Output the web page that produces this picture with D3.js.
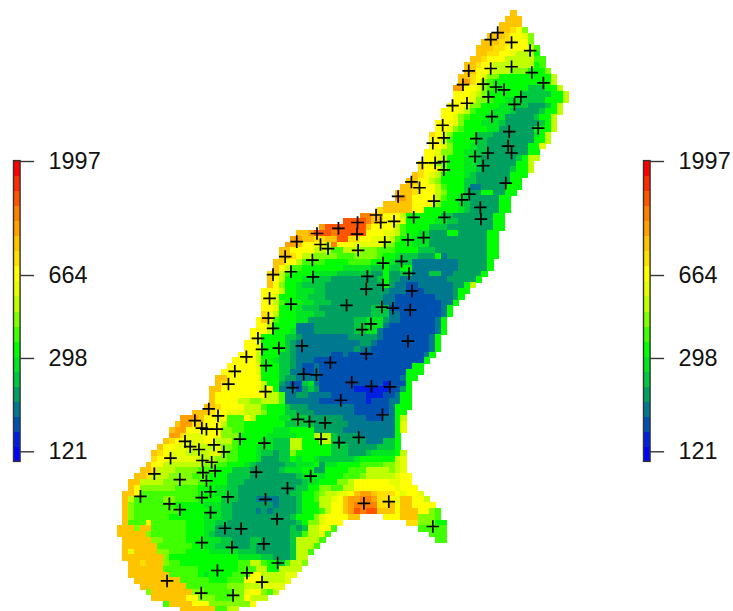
<!DOCTYPE html>
<meta charset="utf-8">
<html>
<head>
  <script src="https://d3js.org/d3.v7.min.js"></script>
  <style>
    html, body { margin: 0; background: #fff; }
    svg { display: block; }
    .legend text { font-family: "Liberation Sans", Arial, sans-serif; font-size: 23.4px; fill: #111; }
    .legend line { stroke: #333; stroke-width: 1.4; }
  </style>
</head>
<body>
  <svg width="733" height="611"></svg>

  <script>
    // colour classes, low to high, one letter each in the raster rows below
    const levels = "abcdefghijklmnopqrst".split("");
    const palette = ["#0000ff", "#0020e0", "#0050b0", "#007890", "#00a060", "#00c840", "#00e620", "#00ff00", "#40ff00", "#80ff00",
                     "#bfff00", "#e6ff00", "#ffff00", "#ffdf00", "#ffc400", "#ffa000", "#ff8000", "#ff5500", "#ff2a00", "#ff0000"];

    const tickValues = [121, 298, 664, 1997];

    // raster, read row by row from the top: first column of each row, then class+run length ("." = no data)
    const rowStart = [68,67,66,66,64,63,62,62,61,60,60,59,59,58,58,58,57,56,56,55,55,54,54,54,53,53,52,52,51,50,49,48,48,46,45,
      42,39,35,31,30,29,28,28,27,27,26,26,26,25,25,25,25,25,24,24,23,23,22,22,21,20,19,18,17,17,16,16,16,15,13,11,10,9,9,8,7,6,6,5,4,3,2,2,1,1,1,1,1,1,0,0,1,1,1,1,2,2,2,3,4,5,6,8,11];
    const rowRuns = [
      "o1","o3","o4","o2n1m1j1","o3n1m2l1j1","o3n2m3j1","o3n2m4k1i1","o2n2m2l1k3h1","o2n1m3k5i2","o2n1m2k7h1i1",
      "o2m2l1k3j3h3j1","o2n1m1l1j2h9k1","o1p1n1m1j1i1h10k1","p2m2l1j1i1h6f3h2k1","m3l1k1j1h6f5h2k1","m3l1j2i1h2g3f4h3k1",
      "m3l1j2h3g3f2e3f1h1k1","m3l1k1i1h3g3f1e4f1h2k1","m2l1j1i1h3g3e5f1h2k1","m3l1j1h3g3f1e6f1h1k1","m2l1j1i1h4g2e6h3k1",
      "n1m1l1j1h4f3e7g1h1k1","m2k1i1h4f2e8h2k1","m2l1j1h3g1f2e7h2l1","m2l1j2h2g2f2e7h2","m2l1k1h3g2f1e6f1h1k2",
      "n1m1l1j2h3g2f1e6h2k1","n1m2l1j1h3g2f1e5f1h2k1","o1n1m1l1k1h4g1f1e6h3","o2m2k1j1h4f2e6h2","o2n1m3k1i1h3f1d2e4h3",
      "o3n1m3k1j1h3f1e2h2e2h2","p2o1m4k1i1h2g1f1e5h2","o5m3l1j1h3g1f1e5h2","n1o5m2h6g1f1e5h2",
      "q2o2m3k1h6f2e7h2","r4q1o2m3l1h5g2f2e6h2","p1r7o1m4k1i1h4f3e8h2","o2p1r3q1r5m3l2k1i1h2g2e3h2e5h2",
      "p2o2n2o2r2n2m2l3k1i1h2g3e10h2","p2o1m4k1q1m3l5j2h3g3e10h2","o2m4k3i2k3j3i3h4f3e9h2","o2n1m1k2j4i3j4i1h2g1f3e3h1d1e7h2",
      "o2m2k1i4h4i4h3g1f3d8e5h1","o1m1k1i2h7g5f2h1f2h2d8e5h1","n1o1k1i1h4g4f6e2h1e2f2d3f2d2e5h1","o1m1k1h3g2f3e8f1h1e2d8e5h1",
      "o1m1j1h2g1f4e10h1e1d2c2d6e2h1k1","m3k1h2g3f2e11d3c3d5e1h2","m2l1h3g2f3e10d2c7d3e1h1","m2k1i1h3g2f3e9d2c8d2h1",
      "m2l1h3g1f3e9f3c9d1h1","n1m1k1h3g3f2e8f3d2c7d1h1","m1o1l1i1h3g2e8f2g3e1d2c6d1h1","m2k1h4d3e7f2g3d1c8d1h1",
      "m3k1h3g1d3e7f2g2d1c9d1h1","m2h4f2e1d8e5d1c8d1h1","m2l1h4f1e1d11e2d1c9d1h1","m2l1h4f1e1d10e1d2c10d1h1",
      "m3k1h3f2e1d6c2d1c13d1h1","m4k1h2g1f2e1d3c19h1","m5l1h3f2e1d1c2d1c16h2","m6l1h3f2d2c2d1c15h3","o2m6h3f1e2d4c14d1h2",
      "o1n1m6k1h2e1d1c2f1g1d1c11b1c3h1","o2m7k1m1h1d3c1e1f1e1c6b6c2e1h1","o1m9k2i1d2e2d4c6b3c2d1h2","o1m4k2j2k3i1d6c8b1c3d2h2",
      "o2n1m4k3i1h3f1e3d8c6d1h3","o3n1m2l3k3j1h3f2e3d7c6d1h2","p3o1m2l1m1i3m1k1h4g2f3e6d4c3d2h1k1","o1p2n2m3k1i3h7f5e6d8h1l1",
      "o1p2m6j2i2h5g3h4e5d9h1l1","p2n1l3m3j3h5g5h3k3f1e4d6h1","o1n1m2l3m2k3i1h4g2f3k2h3k2f1e5d3f2h1",
      "o1m2l4k3l1j2i1h3g3f3k2h5f3e5f3h1","o1n1m1l3k4l2j1i2h3g1f2e1f2j1h6f3e3f1g4h1k1","n1m2l5k3j2i2h3g1e3f2h1g1h2g1f6g1h6k1l1",
      "o1m2k7j2i2h3g1f1e5f2g3h1e1g2h4i4j2k1l1","o2n1k3j4i3h3f3e5f1g3h2e2h4i3k4j1k1l1","o2n1k3j4i3h3f4e8f1g4h3i3j1k5l1m2",
      "o2k4j6i2h3f3e10f1g2h3j2k1m6l2m2","o1m1j6i4h3g2f2e10f2h2j2i2k2m7l1m3","o2m1i10h3g2f2e9f2h2i1j1k2l2m1o1p2o1n3m1l1m2l1",
      "o1k1i5j2i4h4f3e3d4e3f1h2i1k2l1m1o1p2q2p1n2m1l1o2m2k1","o1j1i7h5g3f2e7d1e3f1h3k2m2o1p1q4n2o1m1o2m4",
      "o1j1i8h5g2f2e4d1e1d1e4f1h3i1k1m2o1p1r1q1r2o3m1o3m2j1i1","o1j1i6h6g3f2e10f1h3j1l1m4o2.4m3o3j3i1",
      "o1i3m1i6h3g2f2e12f1h1j2l1m3.11n2j3h2","o3j1o2i6h3g2e13f1e1f1k2m2i1.14i5","o5j1i6h3g1f1e13f2i1k2l1i1.17i3",
      "o5j2i4h3g3f2e3f2e5f1k4i1.19i2","o6i6h2g2f3e3f1e6f1k3i1","o1l1o4j2i3h4g5f3e6f1k2i1","o7j1h12g4f2e3f1k2",
      "o2n1o3j1i2h10i2k2i1h2f1i1k2j1","o6i6h7i3k2h2k4","o7i5h1g1h4i3m2k4l2","o8i5h3i3m3k4l1","o8i7j3k3l4","j1o7j2i5j2l1m2j1i1k1",
      "o6m2j3i3j2m1k3","i1o4m3j7m1","o6i2k2"];

    // rain gauges, position in raster columns and rows
    const gaugeCol = [15.9,17.5,13.5,14.7,15.5,17.3,21.3,25.5,11.8,12.7,14.2,16.8,18.5,9.3,14.8,16.4,17.0,14.9,6.5,10.9,15.5,24.1,16.2,14.7,19.2,4.1,9.1,10.9,16.2,25.7,29.5,33.5,27.7,18.7,21.5,14.7,19.9,25.4,27.8,17.4,22.5,25.1,8.7,14.6,20.1,31.3,33.3,36.0,35.3,38.4,
      41.6,45.6,47.9,38.3,34.6,41.5,31.1,35.2,36.5,46.3,50.3,53.0,41.7,29.1,33.8,46.0,49.2,27.0,30.1,33.9,43.3,50.5,43.1,46.0,51.0,26.4,30.1,39.7,45.8,47.7,50.7,26.2,43.9,42.4,27.0,24.4,25.1,28.0,32.0,50.3,43.1,36.9,25.8,32.3,34.5,40.6,44.0,47.2,30.4,25.7,38.7,45.9,41.8,
      22.4,20.4,19.3,
      65.8,64.6,68.2,71.4,60.8,64.6,68.2,71.7,73.7,59.8,63.3,65.5,66.9,64.2,69.8,68.7,60.5,58.0,64.8,56.3,72.8,67.8,56.5,54.6,62.1,67.6,68.2,64.1,61.9,52.8,55.0,56.5,56.5,63.3,50.9,52.3,67.2,48.6,60.9,59.6,54.8,62.8,51.3,56.6,62.9,44.8,
      42.7,47.0,54.6];
    const gaugeRow = [68.9,70.1,70.9,72.2,72.4,72.4,74.1,74.8,74.5,75.4,75.9,75.1,76.3,77.4,77.8,78.1,79.6,79.9,80.1,81.1,81.3,79.8,83.2,84.2,84.1,84.0,85.3,86.3,86.8,84.5,82.6,80.5,87.9,89.5,89.6,92.0,92.8,92.2,95.5,96.8,97.2,98.8,98.6,100.7,101.1,70.7,71.1,71.3,74.1,74.7,
      36.7,36.7,36.5,37.7,38.6,38.7,40.0,40.5,41.2,40.1,39.7,39.3,41.5,42.6,43.2,43.7,43.4,45.7,45.2,46.1,46.0,45.5,48.2,47.5,48.5,49.8,50.8,51.0,51.3,51.5,51.8,53.2,54.2,55.2,55.0,56.7,58.6,58.4,58.0,57.2,59.4,60.9,61.4,62.9,63.0,64.3,65.0,65.1,65.2,65.9,67.4,69.9,73.8,
      59.9,62.4,64.6,
      3.9,5.1,5.6,7.0,10.5,10.1,9.8,10.8,12.6,12.9,12.8,13.3,13.8,15.0,15.0,16.3,16.1,16.5,18.4,19.9,20.4,21.0,22.1,23.0,22.2,23.5,24.7,24.7,25.3,26.4,26.4,26.2,27.6,26.9,29.7,30.7,29.9,32.2,31.8,32.8,33.0,34.1,35.8,35.8,36.1,35.4,
      85.2,84.9,89.2];

    const svg = d3.select("svg");

    const x = d3.scaleLinear().domain([0, 78]).range([116.7, 568.3]);
    const y = d3.scaleLinear().domain([0, 104]).range([10, 612.2]);
    const color = d3.scaleOrdinal().domain(levels).range(palette);

    // expand the run lengths into cells
    const cells = [];
    rowRuns.forEach((runs, row) => {
      let col = rowStart[row];
      for (const m of runs.matchAll(/([a-t.])(\d+)/g)) {
        for (let i = 0; i < +m[2]; i++, col++) {
          if (m[1] !== ".") cells.push({col, row, level: m[1]});
        }
      }
    });

    svg.append("g")
        .attr("shape-rendering", "crispEdges")
      .selectAll("rect")
      .data(cells)
      .enter()
      .append("rect")
        .attr("x", d => x(d.col))
        .attr("y", d => y(d.row))
        .attr("width", x(1) - x(0) + 0.5)
        .attr("height", y(1) - y(0) + 0.5)
        .attr("fill", d => color(d.level));

    const plus = d3.path();
    plus.moveTo(-6.3, 0); plus.lineTo(6.3, 0);
    plus.moveTo(0, -6.3); plus.lineTo(0, 6.3);

    svg.append("g")
      .selectAll("path")
      .data(gaugeCol)
      .enter()
      .append("path")
        .attr("d", plus.toString())
        .attr("transform", (d, i) => `translate(${x(d)},${y(gaugeRow[i])})`)
        .attr("fill", "none")
        .attr("stroke", "#000")
        .attr("stroke-width", 1.7);

    // same colour bar on both sides
    const barY = d3.scaleLinear().domain([0, levels.length]).range([461.4, 160.6]);
    const tickY = d3.scaleLog().domain([121, 1997]).range([451.3, 161]);

    [13.5, 643.5].forEach(left => {
      const g = svg.append("g")
          .attr("class", "legend")
          .attr("transform", `translate(${left},0)`);

      g.append("g")
          .attr("shape-rendering", "crispEdges")
        .selectAll("rect")
        .data(levels)
        .enter()
        .append("rect")
          .attr("y", (d, i) => barY(i + 1))
          .attr("width", 6.6)
          .attr("height", barY(0) - barY(1) + 0.5)
          .attr("fill", d => color(d));

      g.append("rect")
          .attr("y", barY(levels.length))
          .attr("width", 6.6)
          .attr("height", barY(0) - barY(levels.length))
          .attr("fill", "none")
          .attr("stroke", "#333")
          .attr("stroke-width", 1.4);

      const axis = g.append("g")
          .attr("transform", "translate(6.6,0)")
          .call(d3.axisRight(tickY).tickValues(tickValues).tickFormat(d3.format("d")).tickSize(14).tickPadding(14.5));
      axis.select(".domain").remove();
      axis.attr("font-family", null).attr("font-size", null);
    });
  </script>
</body>
</html>
